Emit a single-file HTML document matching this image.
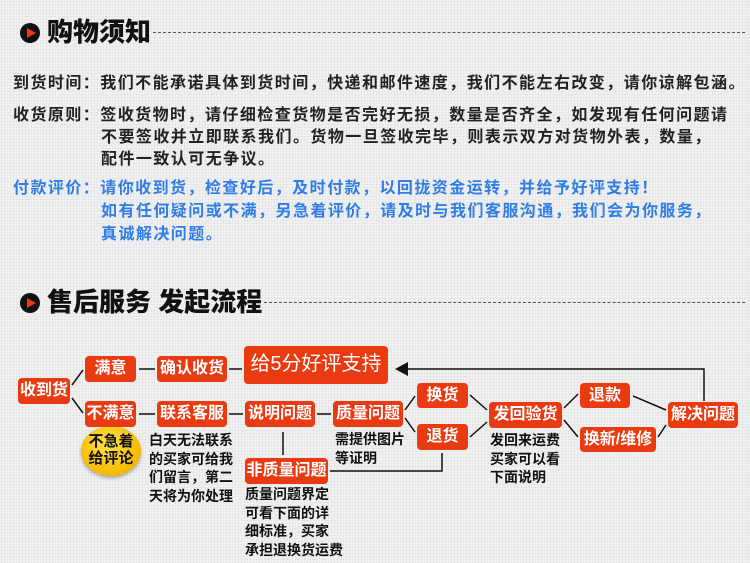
<!DOCTYPE html>
<html><head><meta charset="utf-8"><style>
body{margin:0;width:750px;height:563px;overflow:hidden;background:#f1f1f1;position:relative;font-family:"Liberation Sans","Noto Sans CJK SC",sans-serif;
background-image:radial-gradient(#e2e2e2 0.8px,transparent 1px);background-size:3px 3px;}
.a{position:absolute;white-space:nowrap}
.t{font-size:16px;font-weight:bold;letter-spacing:1.45px;color:#222;line-height:20px}
.b{color:#2f7de6}
.h{font-size:26px;font-weight:900;color:#111;letter-spacing:0px;line-height:30px}
.ic{position:absolute;width:20px;height:20px;border-radius:50%;background:#111}
.ic:after{content:"";position:absolute;left:7px;top:5px;border-left:9px solid #f03a10;border-top:5px solid transparent;border-bottom:5px solid transparent}
.dash{position:absolute;border-top:1.5px dashed #555;height:0}
.x{position:absolute;background:#e93a12;color:#fff;font-size:16px;border-radius:4px;text-align:center;white-space:nowrap;font-weight:bold}
.n{font-size:14px;font-weight:bold;color:#111;line-height:18.5px}
</style></head><body>
<div class="ic" style="left:20px;top:23px"></div>
<div class="a h" style="left:47px;top:17px">购物须知</div>
<div class="dash" style="left:153px;top:32px;width:592px"></div>

<div class="a t" style="left:13px;top:74px">到货时间：我们不能承诺具体到货时间，快递和邮件速度，我们不能左右改变，请你谅解包涵。</div>
<div class="a t" style="left:13px;top:106px">收货原则：签收货物时，请仔细检查货物是否完好无损，数量是否齐全，如发现有任何问题请</div>
<div class="a t" style="left:101px;top:128px">不要签收并立即联系我们。货物一旦签收完毕，则表示双方对货物外表，数量，</div>
<div class="a t" style="left:101px;top:150px">配件一致认可无争议。</div>
<div class="a t b" style="left:13px;top:179px">付款评价：请你收到货，检查好后，及时付款，以回拢资金运转，并给予好评支持！</div>
<div class="a t b" style="left:101px;top:202px">如有任何疑问或不满，另急着评价，请及时与我们客服沟通，我们会为你服务，</div>
<div class="a t b" style="left:101px;top:225px">真诚解决问题。</div>

<div class="ic" style="left:20px;top:293px"></div>
<div class="a h" style="left:47px;top:287px">售后服务 发起流程</div>
<div class="dash" style="left:264px;top:302px;width:481px"></div>

<svg class="a" style="left:0;top:0" width="750" height="563">
<g stroke="#111" stroke-width="1.5" fill="none">
<line x1="72" y1="385" x2="83" y2="370"/><line x1="72" y1="398" x2="83" y2="413"/>
<line x1="139" y1="369" x2="155" y2="369"/><line x1="229" y1="369" x2="242" y2="369"/>
<line x1="139" y1="414" x2="155" y2="414"/><line x1="229" y1="414" x2="243" y2="414"/>
<line x1="317" y1="414" x2="331" y2="414"/>
<line x1="283" y1="432" x2="283" y2="455"/>
<polyline points="330,471 442,471 442,453"/>
<line x1="405" y1="410" x2="415" y2="396"/><line x1="405" y1="418" x2="415" y2="432"/>
<line x1="470" y1="395" x2="487" y2="410"/><line x1="470" y1="437" x2="487" y2="422"/>
<line x1="564" y1="408" x2="578" y2="394"/><line x1="564" y1="420" x2="578" y2="437"/>
<line x1="633" y1="396" x2="666" y2="410"/><line x1="658" y1="437" x2="666" y2="425"/>
<polyline points="704,401 704,369 405,369"/>
</g>
<polygon points="395,369 408,362 408,376" fill="#111"/>
</svg>

<div class="a" style="left:81px;top:426px;width:60px;height:50px;border-radius:50%;background:radial-gradient(circle at 45% 35%,#ffe34a,#f5b800 70%,#d99a00);box-shadow:0 2px 3px rgba(0,0,0,.3);text-align:center;font-size:15px;font-weight:bold;line-height:17px;color:#111;padding-top:7px;box-sizing:border-box">不急着<br>给评论</div>

<div class="x" style="left:18px;top:378px;width:52px;height:26px;line-height:26px">收到货</div>
<div class="x" style="left:85px;top:356px;width:51px;height:26px;line-height:26px">满意</div>
<div class="x" style="left:157px;top:356px;width:70px;height:26px;line-height:26px">确认收货</div>
<div class="x" style="left:244px;top:346px;width:144px;height:38px;line-height:36px;font-size:20px;font-weight:normal">给5分好评支持</div>
<div class="x" style="left:85px;top:401px;width:51px;height:26px;line-height:26px">不满意</div>
<div class="x" style="left:157px;top:401px;width:70px;height:26px;line-height:26px">联系客服</div>
<div class="x" style="left:245px;top:401px;width:70px;height:26px;line-height:26px">说明问题</div>
<div class="x" style="left:333px;top:401px;width:70px;height:26px;line-height:26px">质量问题</div>
<div class="x" style="left:245px;top:458px;width:83px;height:26px;line-height:26px">非质量问题</div>
<div class="x" style="left:417px;top:383px;width:51px;height:25px;line-height:25px">换货</div>
<div class="x" style="left:417px;top:424px;width:51px;height:26px;line-height:26px">退货</div>
<div class="x" style="left:489px;top:402px;width:73px;height:26px;line-height:26px">发回验货</div>
<div class="x" style="left:580px;top:383px;width:50px;height:25px;line-height:25px">退款</div>
<div class="x" style="left:580px;top:427px;width:76px;height:25px;line-height:25px">换新/维修</div>
<div class="x" style="left:668px;top:402px;width:70px;height:26px;line-height:26px">解决问题</div>

<div class="a n" style="left:149px;top:431px">白天无法联系<br>的买家可给我<br>们留言，第二<br>天将为你处理</div>
<div class="a n" style="left:335px;top:430px">需提供图片<br>等证明</div>
<div class="a n" style="left:245px;top:485px">质量问题界定<br>可看下面的详<br>细标准，买家<br>承担退换货运费</div>
<div class="a n" style="left:490px;top:431px">发回来运费<br>买家可以看<br>下面说明</div>
</body></html>
